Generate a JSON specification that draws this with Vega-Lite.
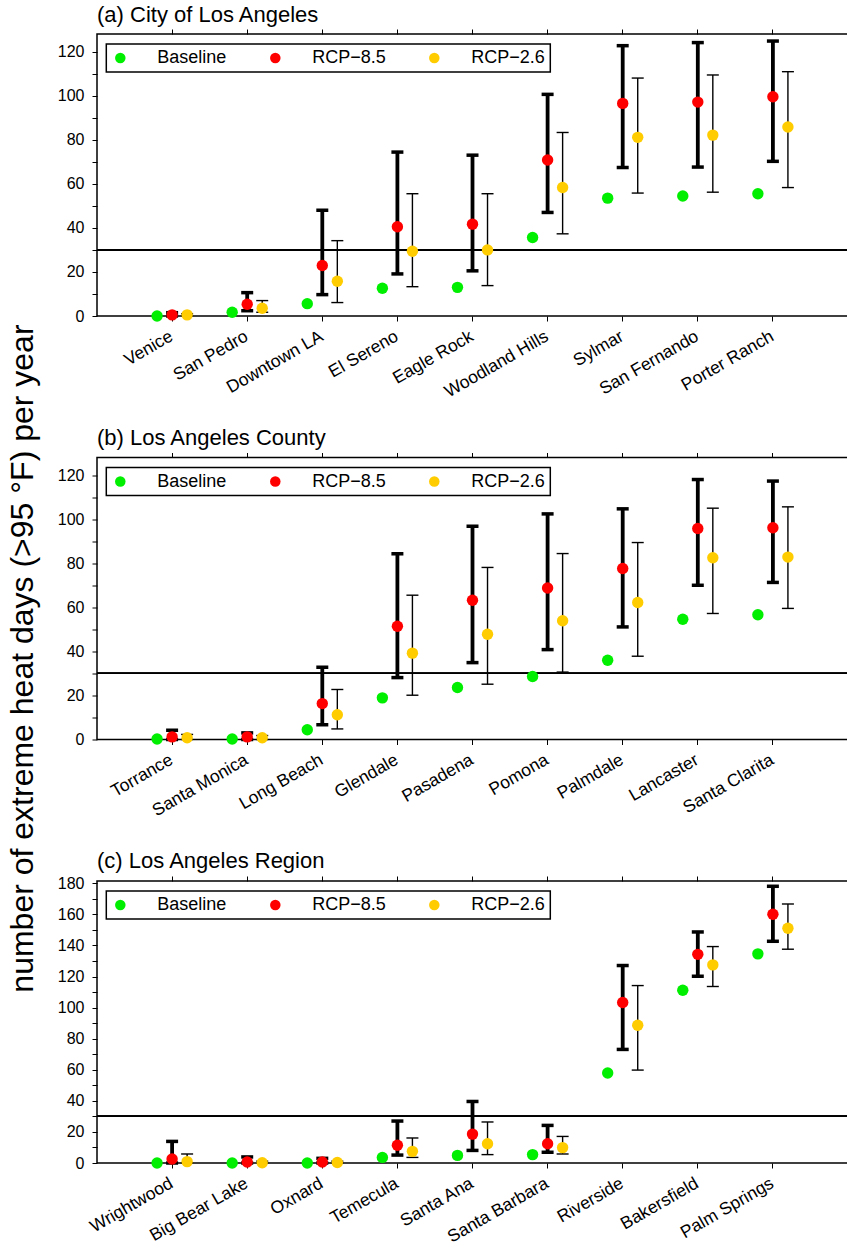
{
  "$schema": "https://vega.github.io/schema/vega-lite/v6.json",
  "padding": {"left": 6, "top": 2, "right": 0, "bottom": 0},
  "bounds": "flush",
  "spacing": 141.5,
  "title": {"text": "number of extreme heat days (>95 °F) per year", "orient": "left", "anchor": "middle", "frame": "bounds", "fontSize": 32, "offset": 17, "dx": -34},
  "config": {
    "font": "Liberation Sans",
    "view": {"stroke": "black", "strokeWidth": 1.5},
    "axis": {"labelFont": "Liberation Sans", "labelFontSize": 16, "labelColor": "black", "tickColor": "black", "tickSize": 5, "tickWidth": 1, "domain": false, "grid": false, "titleFont": "Liberation Sans", "titleColor": "black", "titleFontWeight": "normal"},
    "title": {"font": "Liberation Sans", "fontSize": 22, "fontWeight": "normal", "anchor": "start", "frame": "group", "offset": 2, "color": "black"},
    "legend": {"orient": "none", "legendX": 9.3, "legendY": 10, "direction": "horizontal", "title": " ", "titleOrient": "left", "titleFontSize": 1, "titlePadding": 29, "padding": 5, "strokeColor": "black", "strokeWidth": 1.5, "labelFont": "Liberation Sans", "labelFontSize": 18, "labelColor": "black", "labelOffset": 28, "columnPadding": 39, "symbolSize": 110, "symbolType": "circle", "symbolStrokeWidth": 0}
  },
  "resolve": {"scale": {"x": "independent", "y": "independent", "color": "independent", "xOffset": "independent"}, "legend": {"color": "independent"}, "axis": {"x": "independent", "y": "independent"}},
  "datasets": {
    "a": [
      {"city": "Venice", "series": "Baseline", "value": 0},
      {"city": "Venice", "series": "RCP−8.5", "value": 0.5, "lo": 0, "hi": 1.5},
      {"city": "Venice", "series": "RCP−2.6", "value": 0.5, "lo": 0, "hi": 1.0},
      {"city": "San Pedro", "series": "Baseline", "value": 1.7},
      {"city": "San Pedro", "series": "RCP−8.5", "value": 5.3, "lo": 2.4, "hi": 10.6},
      {"city": "San Pedro", "series": "RCP−2.6", "value": 3.5, "lo": 1.7, "hi": 7.0},
      {"city": "Downtown LA", "series": "Baseline", "value": 5.6},
      {"city": "Downtown LA", "series": "RCP−8.5", "value": 22.9, "lo": 9.7, "hi": 48.0},
      {"city": "Downtown LA", "series": "RCP−2.6", "value": 15.8, "lo": 6.1, "hi": 34.2},
      {"city": "El Sereno", "series": "Baseline", "value": 12.6},
      {"city": "El Sereno", "series": "RCP−8.5", "value": 40.5, "lo": 19.1, "hi": 74.4},
      {"city": "El Sereno", "series": "RCP−2.6", "value": 29.4, "lo": 13.3, "hi": 55.5},
      {"city": "Eagle Rock", "series": "Baseline", "value": 13.0},
      {"city": "Eagle Rock", "series": "RCP−8.5", "value": 41.7, "lo": 20.5, "hi": 73.0},
      {"city": "Eagle Rock", "series": "RCP−2.6", "value": 30.0, "lo": 13.8, "hi": 55.5},
      {"city": "Woodland Hills", "series": "Baseline", "value": 35.6},
      {"city": "Woodland Hills", "series": "RCP−8.5", "value": 70.8, "lo": 47.0, "hi": 100.6},
      {"city": "Woodland Hills", "series": "RCP−2.6", "value": 58.3, "lo": 37.3, "hi": 83.3},
      {"city": "Sylmar", "series": "Baseline", "value": 53.5},
      {"city": "Sylmar", "series": "RCP−8.5", "value": 96.5, "lo": 67.4, "hi": 122.7},
      {"city": "Sylmar", "series": "RCP−2.6", "value": 81.1, "lo": 55.8, "hi": 108.0},
      {"city": "San Fernando", "series": "Baseline", "value": 54.5},
      {"city": "San Fernando", "series": "RCP−8.5", "value": 97.1, "lo": 67.6, "hi": 124.1},
      {"city": "San Fernando", "series": "RCP−2.6", "value": 82.1, "lo": 56.2, "hi": 109.4},
      {"city": "Porter Ranch", "series": "Baseline", "value": 55.5},
      {"city": "Porter Ranch", "series": "RCP−8.5", "value": 99.5, "lo": 70.2, "hi": 124.8},
      {"city": "Porter Ranch", "series": "RCP−2.6", "value": 85.8, "lo": 58.3, "hi": 110.9}
    ],
    "b": [
      {"city": "Torrance", "series": "Baseline", "value": 0.2},
      {"city": "Torrance", "series": "RCP−8.5", "value": 1.2, "lo": 0, "hi": 4.2},
      {"city": "Torrance", "series": "RCP−2.6", "value": 0.8, "lo": 0, "hi": 2.3},
      {"city": "Santa Monica", "series": "Baseline", "value": 0.2},
      {"city": "Santa Monica", "series": "RCP−8.5", "value": 1.2, "lo": 0, "hi": 3.0},
      {"city": "Santa Monica", "series": "RCP−2.6", "value": 0.8, "lo": 0, "hi": 1.8},
      {"city": "Long Beach", "series": "Baseline", "value": 4.4},
      {"city": "Long Beach", "series": "RCP−8.5", "value": 16.3, "lo": 6.7, "hi": 32.8},
      {"city": "Long Beach", "series": "RCP−2.6", "value": 11.2, "lo": 4.8, "hi": 22.7},
      {"city": "Glendale", "series": "Baseline", "value": 18.9},
      {"city": "Glendale", "series": "RCP−8.5", "value": 51.4, "lo": 28.1, "hi": 84.3},
      {"city": "Glendale", "series": "RCP−2.6", "value": 39.2, "lo": 20.1, "hi": 65.5},
      {"city": "Pasadena", "series": "Baseline", "value": 23.6},
      {"city": "Pasadena", "series": "RCP−8.5", "value": 63.2, "lo": 34.9, "hi": 96.8},
      {"city": "Pasadena", "series": "RCP−2.6", "value": 47.8, "lo": 25.1, "hi": 78.1},
      {"city": "Pomona", "series": "Baseline", "value": 28.6},
      {"city": "Pomona", "series": "RCP−8.5", "value": 68.8, "lo": 40.8, "hi": 102.4},
      {"city": "Pomona", "series": "RCP−2.6", "value": 53.9, "lo": 30.6, "hi": 84.4},
      {"city": "Palmdale", "series": "Baseline", "value": 36.0},
      {"city": "Palmdale", "series": "RCP−8.5", "value": 77.6, "lo": 51.1, "hi": 104.7},
      {"city": "Palmdale", "series": "RCP−2.6", "value": 62.2, "lo": 37.8, "hi": 89.4},
      {"city": "Lancaster", "series": "Baseline", "value": 54.6},
      {"city": "Lancaster", "series": "RCP−8.5", "value": 95.8, "lo": 70.0, "hi": 118.0},
      {"city": "Lancaster", "series": "RCP−2.6", "value": 82.5, "lo": 57.2, "hi": 105.0},
      {"city": "Santa Clarita", "series": "Baseline", "value": 56.6},
      {"city": "Santa Clarita", "series": "RCP−8.5", "value": 96.1, "lo": 71.3, "hi": 117.3},
      {"city": "Santa Clarita", "series": "RCP−2.6", "value": 82.8, "lo": 59.5, "hi": 105.6}
    ],
    "c": [
      {"city": "Wrightwood", "series": "Baseline", "value": 0},
      {"city": "Wrightwood", "series": "RCP−8.5", "value": 2.6, "lo": 0, "hi": 13.9},
      {"city": "Wrightwood", "series": "RCP−2.6", "value": 0.9, "lo": 0, "hi": 5.8},
      {"city": "Big Bear Lake", "series": "Baseline", "value": 0},
      {"city": "Big Bear Lake", "series": "RCP−8.5", "value": 0.6, "lo": 0, "hi": 3.9},
      {"city": "Big Bear Lake", "series": "RCP−2.6", "value": 0.2, "lo": 0, "hi": 1.2},
      {"city": "Oxnard", "series": "Baseline", "value": 0},
      {"city": "Oxnard", "series": "RCP−8.5", "value": 0.6, "lo": 0, "hi": 3.0},
      {"city": "Oxnard", "series": "RCP−2.6", "value": 0.3, "lo": 0, "hi": 1.2},
      {"city": "Temecula", "series": "Baseline", "value": 3.6},
      {"city": "Temecula", "series": "RCP−8.5", "value": 11.4, "lo": 5.1, "hi": 27.0},
      {"city": "Temecula", "series": "RCP−2.6", "value": 7.5, "lo": 3.6, "hi": 16.1},
      {"city": "Santa Ana", "series": "Baseline", "value": 4.9},
      {"city": "Santa Ana", "series": "RCP−8.5", "value": 18.6, "lo": 8.1, "hi": 39.6},
      {"city": "Santa Ana", "series": "RCP−2.6", "value": 12.4, "lo": 5.4, "hi": 26.4},
      {"city": "Santa Barbara", "series": "Baseline", "value": 5.4},
      {"city": "Santa Barbara", "series": "RCP−8.5", "value": 12.4, "lo": 6.9, "hi": 24.2},
      {"city": "Santa Barbara", "series": "RCP−2.6", "value": 9.9, "lo": 5.8, "hi": 17.1},
      {"city": "Riverside", "series": "Baseline", "value": 57.9},
      {"city": "Riverside", "series": "RCP−8.5", "value": 103.3, "lo": 73.1, "hi": 127.1},
      {"city": "Riverside", "series": "RCP−2.6", "value": 88.7, "lo": 59.8, "hi": 114.2},
      {"city": "Bakersfield", "series": "Baseline", "value": 111.2},
      {"city": "Bakersfield", "series": "RCP−8.5", "value": 134.3, "lo": 120.2, "hi": 148.7},
      {"city": "Bakersfield", "series": "RCP−2.6", "value": 127.5, "lo": 113.6, "hi": 139.3},
      {"city": "Palm Springs", "series": "Baseline", "value": 134.6},
      {"city": "Palm Springs", "series": "RCP−8.5", "value": 160.1, "lo": 142.7, "hi": 178.1},
      {"city": "Palm Springs", "series": "RCP−2.6", "value": 151.1, "lo": 137.6, "hi": 166.7}
    ]
  },
  "vconcat": [
    {
      "width": 751, "height": 282,
      "data": {"name": "a"},
      "title": "(a) City of Los Angeles",
      "resolve": {"axis": {"x": "independent", "y": "independent"}},
      "encoding": {
        "x": {"field": "city", "type": "nominal", "scale": {"type": "band", "domain": ["Venice", "San Pedro", "Downtown LA", "El Sereno", "Eagle Rock", "Woodland Hills", "Sylmar", "San Fernando", "Porter Ranch"], "paddingInner": 0, "paddingOuter": 0.5}, "axis": null},
        "xOffset": {"field": "series", "type": "nominal", "scale": {"type": "band", "domain": ["Baseline", "RCP−8.5", "RCP−2.6"], "paddingInner": 0, "paddingOuter": 1}}
      },
      "layer": [
        {"mark": {"type": "rule", "color": "black", "strokeWidth": 1}, "encoding": {"x": null, "xOffset": null, "y": {"datum": 30, "type": "quantitative", "axis": null}}},
        {"transform": [{"filter": "datum.series === 'RCP−8.5'"}], "mark": {"type": "rule", "color": "black", "strokeWidth": 3.8}, "encoding": {"y": {"field": "lo", "type": "quantitative", "axis": null}, "y2": {"field": "hi"}}},
        {"transform": [{"filter": "datum.series === 'RCP−8.5'"}], "mark": {"type": "tick", "color": "black", "thickness": 3.5, "size": 12, "opacity": 1}, "encoding": {"y": {"field": "lo", "type": "quantitative", "axis": null}}},
        {"transform": [{"filter": "datum.series === 'RCP−8.5'"}], "mark": {"type": "tick", "color": "black", "thickness": 3.5, "size": 12, "opacity": 1}, "encoding": {"y": {"field": "hi", "type": "quantitative", "axis": null}}},
        {"transform": [{"filter": "datum.series === 'RCP−2.6'"}], "mark": {"type": "rule", "color": "black", "strokeWidth": 1.4}, "encoding": {"y": {"field": "lo", "type": "quantitative", "axis": null}, "y2": {"field": "hi"}}},
        {"transform": [{"filter": "datum.series === 'RCP−2.6'"}], "mark": {"type": "tick", "color": "black", "thickness": 1.4, "size": 12, "opacity": 1}, "encoding": {"y": {"field": "lo", "type": "quantitative", "axis": null}}},
        {"transform": [{"filter": "datum.series === 'RCP−2.6'"}], "mark": {"type": "tick", "color": "black", "thickness": 1.4, "size": 12, "opacity": 1}, "encoding": {"y": {"field": "hi", "type": "quantitative", "axis": null}}},
        {"mark": {"type": "point", "filled": true, "size": 130, "opacity": 1, "shape": "circle"},
         "encoding": {
           "x": {"field": "city", "type": "nominal", "axis": {"orient": "bottom", "title": null, "labelAngle": -30, "labelAlign": "right", "labelBaseline": "top", "labelPadding": 6, "labelFontSize": 17.5, "labelOffset": -5}},
           "y": {"field": "value", "type": "quantitative", "scale": {"domain": [0, 128], "nice": false, "zero": true}, "axis": {"title": null, "values": [0, 10, 20, 30, 40, 50, 60, 70, 80, 90, 100, 110, 120], "labelExpr": "datum.value % 20 === 0 ? datum.label : ''", "labelPadding": 8}},
           "color": {"field": "series", "type": "nominal", "scale": {"domain": ["Baseline", "RCP−8.5", "RCP−2.6"], "range": ["#00ee00", "#ff0000", "#ffcc00"]}}
         }},
        {"mark": {"type": "point", "opacity": 0}, "encoding": {"x": {"field": "city", "type": "nominal", "axis": {"orient": "top", "labels": false, "title": null}}, "y": {"field": "value", "type": "quantitative", "axis": null}}}
      ]
    },
    {
      "width": 751, "height": 282,
      "data": {"name": "b"},
      "title": "(b) Los Angeles County",
      "resolve": {"axis": {"x": "independent", "y": "independent"}},
      "encoding": {
        "x": {"field": "city", "type": "nominal", "scale": {"type": "band", "domain": ["Torrance", "Santa Monica", "Long Beach", "Glendale", "Pasadena", "Pomona", "Palmdale", "Lancaster", "Santa Clarita"], "paddingInner": 0, "paddingOuter": 0.5}, "axis": null},
        "xOffset": {"field": "series", "type": "nominal", "scale": {"type": "band", "domain": ["Baseline", "RCP−8.5", "RCP−2.6"], "paddingInner": 0, "paddingOuter": 1}}
      },
      "layer": [
        {"mark": {"type": "rule", "color": "black", "strokeWidth": 1}, "encoding": {"x": null, "xOffset": null, "y": {"datum": 30, "type": "quantitative", "axis": null}}},
        {"transform": [{"filter": "datum.series === 'RCP−8.5'"}], "mark": {"type": "rule", "color": "black", "strokeWidth": 3.8}, "encoding": {"y": {"field": "lo", "type": "quantitative", "axis": null}, "y2": {"field": "hi"}}},
        {"transform": [{"filter": "datum.series === 'RCP−8.5'"}], "mark": {"type": "tick", "color": "black", "thickness": 3.5, "size": 12, "opacity": 1}, "encoding": {"y": {"field": "lo", "type": "quantitative", "axis": null}}},
        {"transform": [{"filter": "datum.series === 'RCP−8.5'"}], "mark": {"type": "tick", "color": "black", "thickness": 3.5, "size": 12, "opacity": 1}, "encoding": {"y": {"field": "hi", "type": "quantitative", "axis": null}}},
        {"transform": [{"filter": "datum.series === 'RCP−2.6'"}], "mark": {"type": "rule", "color": "black", "strokeWidth": 1.4}, "encoding": {"y": {"field": "lo", "type": "quantitative", "axis": null}, "y2": {"field": "hi"}}},
        {"transform": [{"filter": "datum.series === 'RCP−2.6'"}], "mark": {"type": "tick", "color": "black", "thickness": 1.4, "size": 12, "opacity": 1}, "encoding": {"y": {"field": "lo", "type": "quantitative", "axis": null}}},
        {"transform": [{"filter": "datum.series === 'RCP−2.6'"}], "mark": {"type": "tick", "color": "black", "thickness": 1.4, "size": 12, "opacity": 1}, "encoding": {"y": {"field": "hi", "type": "quantitative", "axis": null}}},
        {"mark": {"type": "point", "filled": true, "size": 130, "opacity": 1, "shape": "circle"},
         "encoding": {
           "x": {"field": "city", "type": "nominal", "axis": {"orient": "bottom", "title": null, "labelAngle": -30, "labelAlign": "right", "labelBaseline": "top", "labelPadding": 6, "labelFontSize": 17.5, "labelOffset": -5}},
           "y": {"field": "value", "type": "quantitative", "scale": {"domain": [0, 128], "nice": false, "zero": true}, "axis": {"title": null, "values": [0, 10, 20, 30, 40, 50, 60, 70, 80, 90, 100, 110, 120], "labelExpr": "datum.value % 20 === 0 ? datum.label : ''", "labelPadding": 8}},
           "color": {"field": "series", "type": "nominal", "scale": {"domain": ["Baseline", "RCP−8.5", "RCP−2.6"], "range": ["#00ee00", "#ff0000", "#ffcc00"]}}
         }},
        {"mark": {"type": "point", "opacity": 0}, "encoding": {"x": {"field": "city", "type": "nominal", "axis": {"orient": "top", "labels": false, "title": null}}, "y": {"field": "value", "type": "quantitative", "axis": null}}}
      ]
    },
    {
      "width": 751, "height": 282,
      "data": {"name": "c"},
      "title": "(c) Los Angeles Region",
      "resolve": {"axis": {"x": "independent", "y": "independent"}},
      "encoding": {
        "x": {"field": "city", "type": "nominal", "scale": {"type": "band", "domain": ["Wrightwood", "Big Bear Lake", "Oxnard", "Temecula", "Santa Ana", "Santa Barbara", "Riverside", "Bakersfield", "Palm Springs"], "paddingInner": 0, "paddingOuter": 0.5}, "axis": null},
        "xOffset": {"field": "series", "type": "nominal", "scale": {"type": "band", "domain": ["Baseline", "RCP−8.5", "RCP−2.6"], "paddingInner": 0, "paddingOuter": 1}}
      },
      "layer": [
        {"mark": {"type": "rule", "color": "black", "strokeWidth": 1}, "encoding": {"x": null, "xOffset": null, "y": {"datum": 30, "type": "quantitative", "axis": null}}},
        {"transform": [{"filter": "datum.series === 'RCP−8.5'"}], "mark": {"type": "rule", "color": "black", "strokeWidth": 3.8}, "encoding": {"y": {"field": "lo", "type": "quantitative", "axis": null}, "y2": {"field": "hi"}}},
        {"transform": [{"filter": "datum.series === 'RCP−8.5'"}], "mark": {"type": "tick", "color": "black", "thickness": 3.5, "size": 12, "opacity": 1}, "encoding": {"y": {"field": "lo", "type": "quantitative", "axis": null}}},
        {"transform": [{"filter": "datum.series === 'RCP−8.5'"}], "mark": {"type": "tick", "color": "black", "thickness": 3.5, "size": 12, "opacity": 1}, "encoding": {"y": {"field": "hi", "type": "quantitative", "axis": null}}},
        {"transform": [{"filter": "datum.series === 'RCP−2.6'"}], "mark": {"type": "rule", "color": "black", "strokeWidth": 1.4}, "encoding": {"y": {"field": "lo", "type": "quantitative", "axis": null}, "y2": {"field": "hi"}}},
        {"transform": [{"filter": "datum.series === 'RCP−2.6'"}], "mark": {"type": "tick", "color": "black", "thickness": 1.4, "size": 12, "opacity": 1}, "encoding": {"y": {"field": "lo", "type": "quantitative", "axis": null}}},
        {"transform": [{"filter": "datum.series === 'RCP−2.6'"}], "mark": {"type": "tick", "color": "black", "thickness": 1.4, "size": 12, "opacity": 1}, "encoding": {"y": {"field": "hi", "type": "quantitative", "axis": null}}},
        {"mark": {"type": "point", "filled": true, "size": 130, "opacity": 1, "shape": "circle"},
         "encoding": {
           "x": {"field": "city", "type": "nominal", "axis": {"orient": "bottom", "title": null, "labelAngle": -30, "labelAlign": "right", "labelBaseline": "top", "labelPadding": 6, "labelFontSize": 17.5, "labelOffset": -5}},
           "y": {"field": "value", "type": "quantitative", "scale": {"domain": [0, 181.5], "nice": false, "zero": true}, "axis": {"title": null, "values": [0, 10, 20, 30, 40, 50, 60, 70, 80, 90, 100, 110, 120, 130, 140, 150, 160, 170, 180], "labelExpr": "datum.value % 20 === 0 ? datum.label : ''", "labelPadding": 8}},
           "color": {"field": "series", "type": "nominal", "scale": {"domain": ["Baseline", "RCP−8.5", "RCP−2.6"], "range": ["#00ee00", "#ff0000", "#ffcc00"]}}
         }},
        {"mark": {"type": "point", "opacity": 0}, "encoding": {"x": {"field": "city", "type": "nominal", "axis": {"orient": "top", "labels": false, "title": null}}, "y": {"field": "value", "type": "quantitative", "axis": null}}}
      ]
    }
  ]
}
